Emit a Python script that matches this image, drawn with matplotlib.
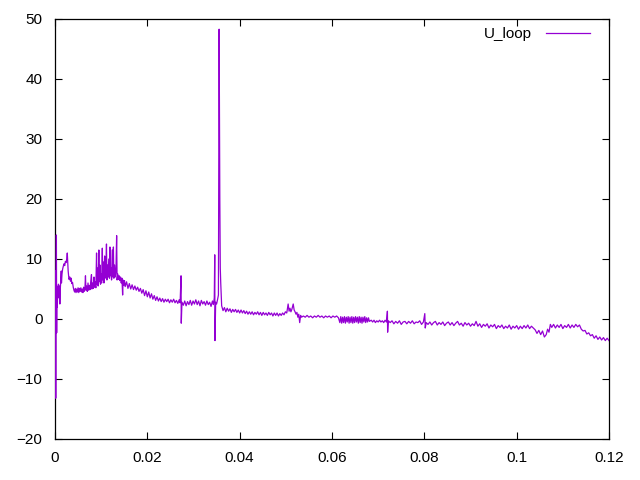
import matplotlib
matplotlib.use('Agg')
from matplotlib import pyplot as plt
from matplotlib.ticker import FormatStrFormatter, MultipleLocator

# Tempo (s) e tensao de loop
tempo = [
    0.0, 0.00008, 0.00016, 0.00022, 0.0003, 0.00036, 0.00042, 0.0005, 0.00058, 0.00066,
    0.00075, 0.00085, 0.00095, 0.00105, 0.00115, 0.00125, 0.00135,
    0.0014, 0.00152, 0.00165, 0.0018, 0.00195, 0.0021, 0.00225, 0.0024, 0.00255, 0.00266,
    0.00275, 0.00285, 0.00295, 0.00305, 0.0032, 0.00335, 0.0035, 0.00365, 0.0038, 0.00395, 0.0041,
    0.00425, 0.0044, 0.00455, 0.0047, 0.00485, 0.005, 0.00515, 0.0053, 0.00545, 0.0056,
    0.00575, 0.0059, 0.00605, 0.0062, 0.00635, 0.0065, 0.0066, 0.0067, 0.00685, 0.007,
    0.00715, 0.0073, 0.00745, 0.0076, 0.00775, 0.0079, 0.008, 0.00815, 0.0083, 0.00845,
    0.00855, 0.0087, 0.00885, 0.009, 0.0091, 0.00925, 0.00935, 0.0095, 0.0096, 0.00975,
    0.00985, 0.01, 0.0101, 0.01025, 0.01035, 0.0105, 0.0106, 0.01075, 0.01085, 0.011,
    0.01115, 0.01125, 0.0114, 0.0115, 0.01165, 0.0118, 0.0119, 0.012, 0.01215, 0.01225,
    0.0124, 0.01255, 0.01265, 0.01275, 0.0129, 0.01305, 0.0132, 0.01335, 0.01345, 0.0136,
    0.01375, 0.0139, 0.01405, 0.0142, 0.01435, 0.0145, 0.01465, 0.01475, 0.0149, 0.01505,
    0.0152, 0.0155, 0.0158, 0.0161, 0.0164, 0.0167, 0.017, 0.0173, 0.0176, 0.0179,
    0.0182, 0.0185, 0.0188, 0.0191, 0.0194, 0.0197, 0.02, 0.0203, 0.0206, 0.0209,
    0.0212, 0.0215, 0.0218, 0.0221, 0.0224, 0.0227, 0.023, 0.0233, 0.0236, 0.0239,
    0.0242, 0.0245, 0.0248, 0.0251, 0.0254, 0.0257, 0.026, 0.0263, 0.0266, 0.0269, 0.0271,
    0.0273, 0.02735, 0.0275,
    0.0278, 0.0281, 0.0284, 0.0287, 0.029, 0.0293, 0.0296, 0.0299, 0.0302, 0.0305,
    0.0308, 0.0311, 0.0314, 0.0317, 0.032, 0.0323, 0.0326, 0.0329, 0.0332, 0.0335,
    0.0338, 0.0341, 0.0343, 0.0345,
    0.0346, 0.03465, 0.0348, 0.035, 0.0352, 0.0354, 0.03555, 0.0357, 0.0358, 0.0359,
    0.0361, 0.0364, 0.0367, 0.037, 0.0373, 0.0376, 0.0379, 0.0382, 0.0385, 0.0388,
    0.0391, 0.0394, 0.0397, 0.04, 0.0403, 0.0406, 0.0409, 0.0412, 0.0415, 0.0418,
    0.0421, 0.0424, 0.0427, 0.043, 0.0433, 0.0436, 0.0439, 0.0442, 0.0445, 0.0448,
    0.0451, 0.0454, 0.0457, 0.046, 0.0463, 0.0466, 0.0469, 0.0472, 0.0475, 0.0478,
    0.0481, 0.0484, 0.0487, 0.049, 0.0493, 0.0496, 0.0499, 0.0502, 0.0505, 0.0507,
    0.0509, 0.0511, 0.0513, 0.0516, 0.0518, 0.052, 0.0522, 0.0524, 0.0526, 0.0528,
    0.053, 0.0532, 0.0534,
    0.0538, 0.0542, 0.0546, 0.055, 0.0554, 0.0558, 0.0562, 0.0566, 0.057, 0.0574,
    0.0578, 0.0582, 0.0586, 0.059, 0.0594, 0.0598, 0.0602, 0.0606, 0.061, 0.0614,
    0.0617, 0.0619, 0.0621, 0.0623, 0.0625, 0.0627, 0.0629, 0.0631, 0.0633, 0.0635,
    0.0637, 0.0639, 0.0641, 0.0643, 0.0645, 0.0647, 0.0649, 0.0651, 0.0653, 0.0655,
    0.0657, 0.0659, 0.0661, 0.0663, 0.0665, 0.0667, 0.0669, 0.0671, 0.0673, 0.0675,
    0.0677, 0.0679, 0.0681,
    0.0685, 0.0688, 0.0691, 0.0694, 0.0697, 0.07, 0.0703, 0.0706, 0.0709, 0.0712,
    0.0715, 0.0718, 0.072, 0.07205, 0.0722,
    0.0726, 0.073, 0.0734, 0.0738, 0.0742, 0.0746, 0.075, 0.0754, 0.0758, 0.0762,
    0.0766, 0.077, 0.0774, 0.0778, 0.0782, 0.0786, 0.079, 0.0794, 0.0798,
    0.0801, 0.0802, 0.0804,
    0.0808, 0.0812, 0.0816, 0.082, 0.0824, 0.0828, 0.0832, 0.0836, 0.084, 0.0844,
    0.0848, 0.0852, 0.0856, 0.086, 0.0864, 0.0868, 0.0872, 0.0876, 0.088, 0.0884,
    0.0888, 0.0892, 0.0896, 0.09, 0.0904,
    0.0908, 0.0912, 0.0916, 0.092, 0.0924, 0.0928, 0.0932, 0.0936, 0.094, 0.0944,
    0.0948, 0.0952, 0.0956, 0.096, 0.0964, 0.0968, 0.0972, 0.0976, 0.098, 0.0984,
    0.0988, 0.0992, 0.0996, 0.1, 0.1004, 0.1008, 0.1012, 0.1016, 0.102, 0.1024,
    0.1028, 0.1032, 0.1036, 0.104,
    0.1044, 0.1048, 0.1052, 0.1056, 0.106, 0.1064, 0.1067, 0.107, 0.1073,
    0.1076, 0.108, 0.1084, 0.1088, 0.1092, 0.1096, 0.11, 0.1104, 0.1108, 0.1112,
    0.1116, 0.112, 0.1124, 0.1128, 0.1132, 0.1136,
    0.114, 0.1144, 0.1148, 0.1152, 0.1156, 0.116, 0.1164, 0.1168, 0.1172, 0.1176,
    0.118, 0.1184, 0.1188, 0.1192, 0.1196, 0.12,
]

u_loop = [
    0.0, 8.0, -13.2, 3.0, 14.0, -2.3, 5.5, 2.0, 5.0, 3.5,
    5.8, 4.5, 5.5, 2.5, 5.0, 6.5, 8.0,
    6.0, 7.5, 8.3, 8.8, 9.2, 8.9, 9.6, 9.4, 10.0, 11.0,
    9.5, 8.0, 7.2, 6.6, 7.0, 6.3, 6.8, 5.9, 6.1, 5.3, 4.8,
    4.5, 5.1, 4.4, 5.0, 4.5, 5.2, 4.4, 5.1, 4.6, 5.2,
    4.5, 5.0, 4.4, 5.3, 4.6, 5.4, 7.2, 4.8, 5.5, 4.6,
    6.0, 4.8, 5.6, 4.9, 6.3, 7.4, 5.0, 6.0, 5.1, 7.0,
    5.3, 6.2, 5.2, 11.0, 5.8, 8.5, 5.5, 11.5, 6.2, 9.0,
    5.8, 7.5, 6.0, 11.8, 6.5, 9.5, 6.0, 10.5, 6.8, 8.0,
    12.5, 6.5, 9.0, 7.0, 10.0, 6.8, 12.0, 7.2, 8.5, 6.5,
    11.5, 7.0, 12.0, 6.8, 9.0, 7.0, 8.0, 13.9, 6.5, 7.5,
    6.6, 7.2, 6.4, 7.0, 6.0, 6.8, 4.0, 6.5, 5.6, 6.4,
    5.4, 6.2, 5.1, 5.9, 5.0, 5.7, 4.9, 5.5, 4.8, 5.3,
    4.6, 5.1, 4.3, 4.9, 3.9, 4.7, 3.7, 4.5, 3.5, 4.2,
    3.3, 3.9, 3.1, 3.7, 3.0, 3.5, 2.9, 3.4, 2.8, 3.3,
    2.9, 3.3, 2.7, 3.2, 2.8, 3.3, 2.7, 3.1, 2.6, 3.2, 2.7,
    7.2, -0.7, 2.8,
    2.3, 3.0, 2.2, 2.9, 2.4, 3.1, 2.3, 3.0, 2.5, 3.2,
    2.4, 3.0, 2.2, 3.1, 2.5, 2.9, 2.3, 3.0, 2.4, 2.8,
    2.1, 3.0, 2.4, 3.5,
    10.7, -3.6, 2.8, 2.5, 3.2, 4.0, 48.3, 20.0, 8.5, 6.0,
    2.2, 1.4, 1.9, 1.2, 1.8, 1.3, 1.7, 1.1, 1.6, 1.2,
    1.6, 1.1, 1.5, 1.0, 1.5, 1.0, 1.4, 0.9, 1.3, 0.8,
    1.2, 0.8, 1.2, 0.7, 1.1, 0.8, 1.2, 0.7, 1.1, 0.6,
    1.1, 0.7, 1.0, 0.6, 1.1, 0.7, 1.0, 0.5, 1.0, 0.6,
    1.0, 0.5, 0.9, 0.6, 1.0, 0.7, 1.2, 1.0, 2.5, 1.3,
    1.8, 1.2, 1.6, 2.5, 1.5, 1.2, 0.8, 1.1, 0.3, 0.8,
    -0.6, 0.6, 0.3,
    0.5, 0.3, 0.6, 0.3, 0.5, 0.2, 0.5, 0.3, 0.6, 0.3,
    0.5, 0.2, 0.5, 0.3, 0.5, 0.2, 0.5, 0.3, 0.5, 0.2,
    -0.6, 0.4, -0.7, 0.3, -0.6, 0.4, -0.7, 0.3, -0.5, 0.4,
    -0.7, 0.3, -0.6, 0.4, -0.7, 0.3, -0.6, 0.4, -0.5, 0.3,
    -0.7, 0.4, -0.6, 0.3, -0.7, 0.3, -0.5, 0.4, -0.6, 0.2,
    -0.5, 0.2, -0.4,
    -0.2, -0.5, -0.2, -0.6, -0.3, -0.5, -0.2, -0.5, -0.3, -0.6,
    -0.2, -0.5, 1.3, -2.2, -0.3,
    -0.6, -0.3, -0.8, -0.4, -0.7, -0.3, -0.9, -0.5, -0.4, -0.8,
    -0.4, -0.7, -0.3, -0.8, -0.5, -0.6, -0.3, -0.9, -0.5,
    0.9, -1.5, -0.6,
    -0.9, -0.5, -1.0, -0.6, -0.4, -1.0, -0.6, -0.9, -0.5, -1.1,
    -0.7, -0.5, -1.0, -0.6, -1.1, -0.7, -0.4, -1.0, -0.7, -1.2,
    -0.6, -1.0, -0.7, -1.2, -0.8,
    -1.1, -0.4, -1.2, -0.8, -1.4, -0.9, -1.2, -0.8, -1.5, -1.0,
    -1.3, -0.9, -1.6, -1.1, -1.4, -1.0, -1.6, -1.2, -1.5, -1.0,
    -1.7, -1.2, -1.5, -1.1, -1.7, -1.2, -1.6, -1.1, -1.5, -1.0,
    -1.6, -1.2, -1.5, -1.8,
    -2.4, -1.9, -2.6, -2.0, -3.0, -2.6, -1.7, -2.2, -0.9,
    -1.4, -0.9, -1.5, -1.0, -1.4, -0.9, -1.6, -1.1, -1.4, -0.9,
    -1.5, -1.0, -1.4, -0.9, -1.3, -1.0,
    -1.7, -2.0, -1.9, -2.5, -2.3, -2.8, -2.6, -3.2, -2.8, -3.4,
    -3.0, -3.5, -3.1, -3.6, -3.2, -3.6,
]

yticks = [-20, -10, 0, 10, 20, 30, 40, 50]

plt.rcParams['font.family'] = ['Liberation Sans', 'DejaVu Sans']

fig = plt.figure(dpi=100, figsize=(6.4, 4.8))
ax = fig.add_axes([55 / 640, 41 / 480, 554 / 640, 420 / 480])

ax.plot(tempo, u_loop, c='#9400d3', lw=0.9, label='U_loop', zorder=3)

# Formata no estilo do gnuplot
ax.set_xlim(0, 0.12)
ax.set_ylim(-20, 50)
ax.xaxis.set_major_locator(MultipleLocator(0.02))
ax.xaxis.set_major_formatter(FormatStrFormatter('%g'))
ax.set_yticks(yticks)
ax.tick_params(axis='both', which='major', direction='in', length=5, width=0.8,
               labelsize=11, top=True, right=True)
ax.tick_params(axis='x', pad=9)
ax.tick_params(axis='y', pad=9)
for s in ax.spines.values():
    s.set_linewidth(0.9)

ax.legend(loc='upper right', bbox_to_anchor=(1 - 19 / 554, 1 - 8 / 420),
          frameon=False, markerfirst=False, handlelength=2.9, fontsize=11,
          borderaxespad=0, borderpad=0, handletextpad=0.9)

plt.savefig('out.png')
